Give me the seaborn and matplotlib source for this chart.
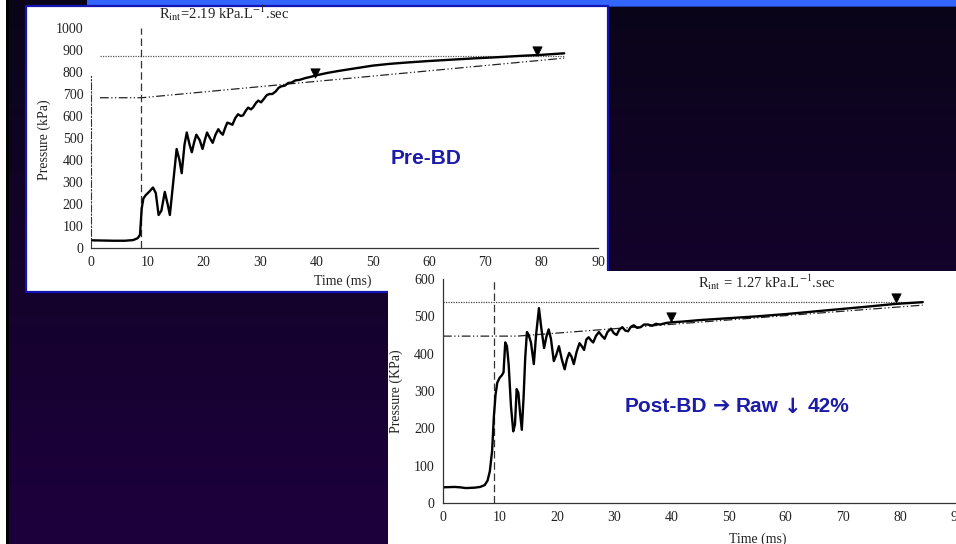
import numpy as np
import matplotlib
matplotlib.use("Agg")
import matplotlib.pyplot as plt
from matplotlib.patches import Rectangle
from matplotlib.offsetbox import TextArea, HPacker, AnnotationBbox
import matplotlib.colors as mcolors
import seaborn as sns

# ---------------- data ----------------
pre_t = [0, 2, 4, 6, 7.5, 8.3, 8.7, 9.0, 9.3, 9.7, 10.3, 11.0, 11.5, 12.0, 12.5, 13.1,
         13.6, 14.0, 14.6, 15.2, 15.7, 16.1, 16.6, 17.0, 17.5, 17.9, 18.3, 18.7, 19.3,
         19.8, 20.2, 20.6, 21.1, 21.6, 22.1, 22.6, 23.0, 23.4, 23.8, 24.2, 24.7, 25.1,
         25.6, 26.1, 26.6, 27.0, 27.5, 27.9, 28.4, 28.8, 29.3, 29.7, 30.2, 30.7, 31.2,
         31.7, 32.2, 32.8, 33.3, 33.8, 34.4, 35.0, 35.6, 36.3, 37.0, 38.0, 39.0, 40.0,
         42.0, 44.0, 46.0, 48.0, 50.0, 53.0, 56.0, 60.0, 64.0, 68.0, 72.0, 76.0, 80.0, 84.0]
pre_p = [35, 34, 33, 33, 36, 45, 60, 180, 225, 240, 255, 275, 250, 150, 170, 255,
         200, 150, 300, 450, 400, 340, 470, 525, 470, 435, 480, 515, 490,
         450, 490, 525, 500, 478, 515, 540, 525, 515, 545, 570, 565, 560,
         590, 608, 600, 603, 625, 638, 630, 640, 660, 670, 662, 678, 695,
         700, 700, 712, 728, 735, 738, 750, 752, 762, 764, 772, 778, 785,
         796, 805, 813, 821, 829, 837, 843, 850, 856, 862, 867, 873, 878, 885]

post_t = [0, 2, 3, 4, 5.5, 6.5, 7.3, 7.8, 8.2, 8.6, 8.9, 9.2, 9.5, 9.9, 10.3, 10.6,
          10.9, 11.2, 11.5, 11.9, 12.3, 12.6, 12.9, 13.2, 13.5, 13.8, 14.1, 14.4, 14.7,
          15.0, 15.4, 15.9, 16.3, 16.8, 17.2, 17.7, 18.1, 18.5, 18.9, 19.4, 19.8, 20.3,
          20.8, 21.3, 21.7, 22.1, 22.5, 22.9, 23.4, 23.9, 24.3, 24.7, 25.1, 25.5, 25.9,
          26.3, 26.8, 27.3, 27.8, 28.3, 28.8, 29.4, 29.9, 30.4, 30.9, 31.4, 31.9, 32.4,
          32.9, 33.4, 34.0, 34.6, 35.2, 35.9, 36.6, 37.3, 38.0, 39.0, 40.0, 42, 45, 50,
          55, 60, 65, 70, 75, 79, 84]
post_p = [42, 43, 42, 40, 41, 43, 48, 60, 85, 140, 230, 290, 322, 335, 342, 350,
          430, 420, 370, 260, 192, 210, 305, 295, 240, 196, 280, 390, 458,
          450, 430, 372, 450, 522, 470, 415, 445, 465, 440, 380, 395, 420,
          385, 358, 385, 402, 392, 372, 405, 428, 420, 410, 438, 444, 436,
          430, 448, 458, 448, 440, 458, 467, 455, 450, 465, 471, 462, 460,
          472, 476, 469, 471, 478, 478, 475, 480, 478, 482, 484, 486, 490, 495,
          500, 506, 513, 520, 527, 533, 538]

pre_fit_t = [1.6, 9.0, 84.0]
pre_fit_p = [683, 683, 863]
pre_plateau = 872
pre_plateau_span = [1.6, 84.0]
pre_marker_t = [39.8, 79.2]
pre_marker_p = [795, 896]
pre_valve_t = 8.9

post_fit_t = [0.0, 13.0, 84.0]
post_fit_p = [447, 447, 530]
post_plateau = 538
post_plateau_span = [0.0, 84.0]
post_marker_t = [40.0, 79.3]
post_marker_p = [497, 549]
post_valve_t = 8.9

x_ticks = [0, 10, 20, 30, 40, 50, 60, 70, 80, 90]
pre_y_ticks = [0, 100, 200, 300, 400, 500, 600, 700, 800, 900, 1000]
post_y_ticks = [0, 100, 200, 300, 400, 500, 600]

# ---------------- figure ----------------
W, H = 956, 544
sns.set_theme(style="white")
plt.rcParams['font.family'] = ['Liberation Serif', 'DejaVu Serif']
plt.rcParams['mathtext.fontset'] = 'stix'

fig = plt.figure(figsize=(W / 100, H / 100), dpi=100)


def px_rect(x0, y0, x1, y1):
    return [x0 / W, 1 - y1 / H, (x1 - x0) / W, (y1 - y0) / H]


def ftxt(x, y, s, **kw):
    return fig.text(x / W, 1 - y / H, s, **kw)


# background slide
bg = fig.add_axes([0, 0, 1, 1], zorder=0)
top = np.array(mcolors.to_rgb("#0a0519"))
bot = np.array(mcolors.to_rgb("#1d003d"))
g = np.linspace(0, 1, 256)[:, None]
img = (top[None, None, :] * (1 - g[..., None]) + bot[None, None, :] * g[..., None])
img = np.repeat(img, 4, axis=1)
bg.imshow(img, aspect='auto', extent=[0, W, H, 0], interpolation='bilinear')
bg.set_xlim(0, W)
bg.set_ylim(H, 0)
bg.axis('off')
bg.add_patch(Rectangle((0, 0), 6, H, color='white', lw=0))
bg.add_patch(Rectangle((6, 0), 3, H, color='black', lw=0))
bg.add_patch(Rectangle((87, 0), W - 87, 6, color='#3366ff', lw=0))
bg.add_patch(Rectangle((87, 6), W - 87, 1, color='#1f3fb0', lw=0))
bg.add_patch(Rectangle((26, 6), 582, 286, facecolor='white', edgecolor='#1414b4', lw=1.6))

# panel 2 (white sheet over panel 1)
p2 = fig.add_axes(px_rect(388, 271, 957, 545), zorder=3)
p2.set_facecolor('white')
p2.set_xticks([])
p2.set_yticks([])
for s in p2.spines.values():
    s.set_visible(False)

# ---------------- chart 1 (Pre-BD) ----------------
ax1 = fig.add_axes(px_rect(91, 28, 598, 248), zorder=2)
ax1.set_facecolor('none')
sns.lineplot(x=pre_fit_t, y=pre_fit_p, ax=ax1, color='#222222', lw=0.9,
             linestyle=(0, (7, 2, 1, 2, 1, 2)), sort=False, estimator=None)
ax1.hlines(pre_plateau, pre_plateau_span[0], pre_plateau_span[1], colors='#555555',
           linestyles=(0, (1, 1)), lw=0.9)
ax1.axvline(pre_valve_t, color='#333333', lw=0.9, ls=(0, (6, 3)))
sns.lineplot(x=pre_t, y=pre_p, ax=ax1, color='black', lw=1.7, sort=False, estimator=None)
sns.scatterplot(x=pre_marker_t, y=pre_marker_p, ax=ax1, marker='v', s=45,
                color='black', edgecolor='black', zorder=5)
ax1.set_xlim(0, 90)
ax1.set_ylim(0, 1000)
ax1.set_xticks(x_ticks)
ax1.set_yticks(pre_y_ticks)
ax1.tick_params(axis='both', labelsize=10, colors='#333333', length=3, width=0.8,
                direction='inout', pad=4)
ax1.tick_params(axis='both', labelcolor='#222222')
ax1.set_xlabel('')
ax1.set_ylabel('')
ax1.spines['top'].set_visible(False)
ax1.spines['right'].set_visible(False)
ax1.spines['left'].set_bounds(0, 780)
ax1.spines['left'].set_linestyle((0, (6, 2, 1, 2)))
ax1.spines['left'].set_linewidth(0.8)
ax1.spines['left'].set_color('#333333')
ax1.spines['bottom'].set_linewidth(0.9)
ax1.spines['bottom'].set_color('#333333')

ftxt(224, 13, r"R$_{\mathrm{int}}$=2.19 kPa.L$^{-1}$.sec", ha='center', va='center',
     fontsize=10.5, color='#222222', zorder=2.5)
ftxt(44, 140, 'Pressure (kPa)', rotation=90, ha='center', va='center', fontsize=10,
     color='#222222', zorder=2.5)
ftxt(343, 281, 'Time (ms)', ha='center', va='center', fontsize=10, color='#222222',
     zorder=2.5)
ftxt(426, 159, 'Pre-BD', ha='center', va='center', fontsize=15, fontweight='bold',
     family=['Liberation Sans', 'DejaVu Sans'], color='#1c1ca8', zorder=2.5)

# ---------------- chart 2 (Post-BD) ----------------
ax2 = fig.add_axes(px_rect(443, 279, 957, 503), zorder=4)
ax2.set_facecolor('none')
sns.lineplot(x=post_fit_t, y=post_fit_p, ax=ax2, color='#222222', lw=0.9,
             linestyle=(0, (7, 2, 1, 2, 1, 2)), sort=False, estimator=None)
ax2.hlines(post_plateau, post_plateau_span[0], post_plateau_span[1], colors='#444444',
           linestyles=(0, (1, 1)), lw=0.9)
ax2.axvline(post_valve_t, color='#333333', lw=0.9, ls=(0, (6, 3)))
sns.lineplot(x=post_t, y=post_p, ax=ax2, color='black', lw=1.7, sort=False, estimator=None)
sns.scatterplot(x=post_marker_t, y=post_marker_p, ax=ax2, marker='v', s=45,
                color='black', edgecolor='black', zorder=5)
ax2.set_xlim(0, 90)
ax2.set_ylim(0, 600)
ax2.set_xticks(x_ticks)
ax2.set_yticks(post_y_ticks)
ax2.tick_params(axis='both', labelsize=10, colors='#333333', length=4, width=0.8,
                direction='in', pad=6)
ax2.tick_params(axis='both', labelcolor='#222222')
ax2.set_xlabel('')
ax2.set_ylabel('')
ax2.spines['top'].set_visible(False)
ax2.spines['right'].set_visible(False)
for side in ('left', 'bottom'):
    ax2.spines[side].set_linewidth(0.9)
    ax2.spines[side].set_color('#333333')

ftxt(767, 282, r"R$_{\mathrm{int}}$ = 1.27 kPa.L$^{-1}$.sec", ha='center', va='center',
     fontsize=10.5, color='#222222', zorder=5)
ftxt(396, 391, 'Pressure (KPa)', rotation=90, ha='center', va='center', fontsize=10,
     color='#222222', zorder=5)
ftxt(758, 539, 'Time (ms)', ha='center', va='center', fontsize=10, color='#222222',
     zorder=5)

blue = '#1c1ca8'
word_props = dict(fontsize=15, fontweight='bold', family='Liberation Sans', color=blue)
arrow_props = dict(fontsize=15, fontweight='bold', family='DejaVu Sans', color=blue)
parts = [TextArea('Post-BD', textprops=word_props),
         TextArea('\u2794', textprops=arrow_props),
         TextArea('Raw', textprops=word_props),
         TextArea('\u2193', textprops=arrow_props),
         TextArea('42%', textprops=word_props)]
pack = HPacker(children=parts, align='center', pad=0, sep=4)
ab = AnnotationBbox(pack, (737 / W, 1 - 407 / H), xycoords='figure fraction',
                    frameon=False, box_alignment=(0.5, 0.5), zorder=5)
fig.add_artist(ab)

fig.savefig('out.png', dpi=100)
